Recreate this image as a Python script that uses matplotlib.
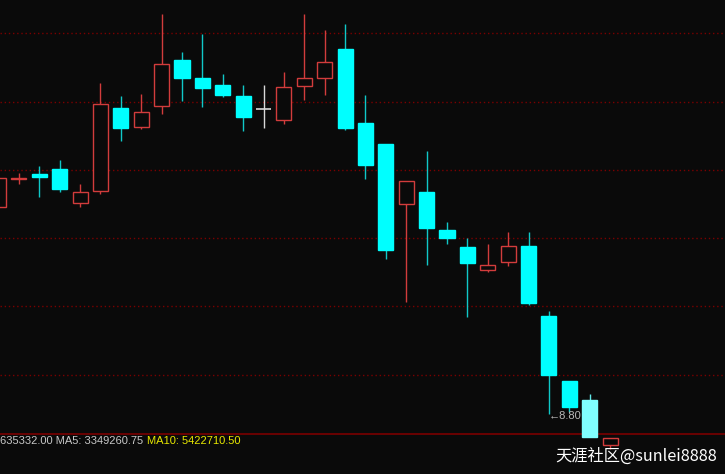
import numpy as np
import matplotlib
matplotlib.use("Agg")
import matplotlib.pyplot as plt
from matplotlib.patches import Rectangle

# daily candles (price)
opens = [10.87, 11.15, 11.20, 11.25, 10.91, 11.03, 11.86, 11.67, 11.88, 12.34,
         12.16, 12.09, 11.98, 11.85, 11.74, 12.08, 12.16, 12.45, 11.71, 11.50,
         10.90, 11.02, 10.64, 10.47, 10.24, 10.32, 10.48, 9.78, 9.13, 8.94, 8.49]
highs = [11.17, 11.21, 11.28, 11.34, 11.10, 12.11, 11.98, 12.00, 12.80, 12.42,
         12.60, 12.20, 12.09, 12.09, 12.22, 12.80, 12.64, 12.70, 11.99, 11.50,
         11.13, 11.43, 10.72, 10.56, 10.50, 10.62, 10.62, 9.83, 9.13, 9.00, 8.56]
lows = [10.86, 11.10, 10.97, 11.02, 10.87, 11.00, 11.53, 11.65, 11.80, 11.93,
        11.87, 11.97, 11.63, 11.66, 11.70, 11.94, 11.99, 11.64, 11.15, 10.35,
        9.92, 10.29, 10.50, 9.77, 10.22, 10.28, 9.89, 8.80, 8.82, 8.57, 8.45]
closes = [11.16, 11.16, 11.17, 11.05, 11.02, 11.90, 11.66, 11.82, 12.30, 12.16,
          12.06, 11.99, 11.77, 11.85, 12.07, 12.16, 12.32, 11.66, 11.29, 10.44,
          11.13, 10.66, 10.56, 10.31, 10.29, 10.48, 9.91, 9.19, 8.87, 8.57, 8.56]

grid_levels = [12.61, 11.92, 11.24, 10.56, 9.88, 9.19]
panel_split = 8.60
low_mark = 8.80
highlight = 29  # the selected day is drawn lighter

vol_text = "635332.00 MA5: 3349260.75 "
ma10_text = "MA10: 5422710.50"
watermark = "天涯社区@sunlei8888"

BG = "#0a0a0a"
UP = "#d23c3c"
DOWN = "#00ffff"
DOWN_WICK = "#10c8c8"
DOJI = "#d8d8d8"
FONT = ["Liberation Sans", "DejaVu Sans"]

W, H = 725, 474
fig = plt.figure(figsize=(W / 100, H / 100), dpi=100, facecolor=BG)
ax = fig.add_axes([0, 0, 1, 1])
ax.set_facecolor(BG)
ax.set_xlim(0.07, 35.64)
ax.set_ylim(8.20, 12.94)
ax.axis("off")

for lv in grid_levels:
    ax.axhline(lv, color="#7a0000", lw=1.0, ls=(0, (1, 2)), zorder=1)
ax.axhline(panel_split, color="#7a0000", lw=1.2, zorder=1)

bw = 0.74
for i, (o, h, l, c) in enumerate(zip(opens, highs, lows, closes)):
    if c > o:
        col, wcol, fill = UP, UP, BG
    elif c < o:
        col, wcol, fill = DOWN, DOWN_WICK, DOWN
    else:
        col, wcol, fill = DOJI, DOJI, DOJI
    if i == highlight:
        col, wcol, fill = "#80ffff", "#60e8e8", "#80ffff"
    ax.vlines(i, l, h, color=wcol, lw=1.0, zorder=2)
    lo, hi = min(o, c), max(o, c)
    if hi - lo < 0.005:
        ax.hlines(o, i - bw / 2, i + bw / 2, color=col, lw=1.2, zorder=3)
    else:
        ax.add_patch(Rectangle((i - bw / 2, lo), bw, hi - lo, facecolor=fill,
                               edgecolor=col, lw=1.0, zorder=3))

# lowest price marker (lowest low of the main panel)
i_low = lows.index(low_mark)
ax.text(i_low, low_mark - 0.02, "←" + f"{low_mark:.2f}", color="#b8b8b8",
        fontsize=8, ha="left", va="center", zorder=4, family=FONT)

fig.text(0 / W, 1 - 441 / H, vol_text, color="#c8c8c8", fontsize=8,
         ha="left", va="center", family=FONT)
fig.text(147 / W, 1 - 441 / H, ma10_text, color="#e8e800", fontsize=8,
         ha="left", va="center", family=FONT)
fig.text(717 / W, 1 - 456 / H, watermark, color="#ffffff", fontsize=11.7,
         ha="right", va="center", family=["Noto Sans CJK SC", "DejaVu Sans"])

fig.savefig("out.png", dpi=100, facecolor=BG)
